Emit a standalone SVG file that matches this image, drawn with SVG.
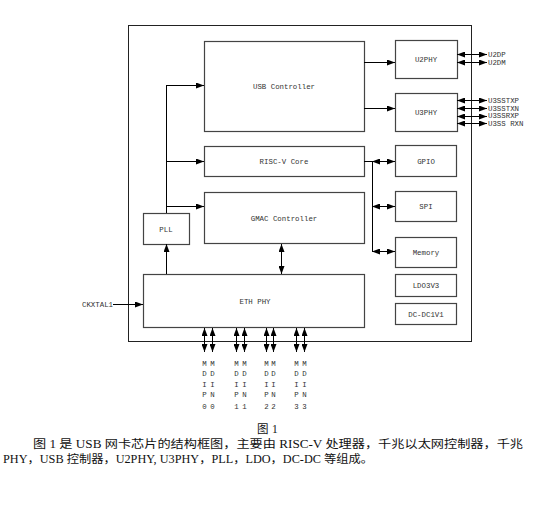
<svg xmlns="http://www.w3.org/2000/svg" width="556" height="519" viewBox="0 0 556 519">
<style>
.box{fill:#fff;stroke:#444;stroke-width:1.2}
.outer{fill:none;stroke:#222;stroke-width:1}
.t{font-family:"Liberation Mono",monospace;font-size:7.4px;fill:#333;text-anchor:middle}
.lb{font-family:"Liberation Mono",monospace;font-size:7.4px;fill:#333}
.c{stroke:#000;stroke-width:1;fill:none}
.a{marker-end:url(#ah)}
.d{marker-end:url(#ah);marker-start:url(#ah)}
.cap{font-family:"Liberation Serif","Noto Sans CJK SC",serif;font-size:11.5px;fill:#111}
</style>
<defs>
<marker id="ah" markerUnits="userSpaceOnUse" markerWidth="8" markerHeight="6" refX="8" refY="3" orient="auto-start-reverse">
<path d="M0,0 L8,3 L0,6 z" fill="#000"/>
</marker>
</defs>
<rect class="outer" x="128.5" y="25.5" width="343" height="316"/>
<g id="usb_controller"><rect class="box" x="204.5" y="41.5" width="160" height="90"/><text class="t" x="284" y="89">USB Controller</text></g>
<g id="riscv_core"><rect class="box" x="204.5" y="146.5" width="160" height="30"/><text class="t" x="284" y="164">RISC-V Core</text></g>
<g id="gmac_controller"><rect class="box" x="204.5" y="192.5" width="160" height="51"/><text class="t" x="284" y="221">GMAC Controller</text></g>
<g id="pll"><rect class="box" x="143.5" y="213.5" width="46" height="31"/><text class="t" x="166" y="232">PLL</text></g>
<g id="eth_phy"><rect class="box" x="143.5" y="274.5" width="221" height="53"/><text class="t" x="255" y="304">ETH PHY</text></g>
<g id="u2phy"><rect class="box" x="395.5" y="40.5" width="62" height="38"/><text class="t" x="426" y="62">U2PHY</text></g>
<g id="u3phy"><rect class="box" x="395.5" y="93.5" width="62" height="38"/><text class="t" x="426" y="115">U3PHY</text></g>
<g id="gpio"><rect class="box" x="395.5" y="145.5" width="61" height="31"/><text class="t" x="426" y="164">GPIO</text></g>
<g id="spi"><rect class="box" x="395.5" y="191.5" width="61" height="30"/><text class="t" x="426" y="209">SPI</text></g>
<g id="memory"><rect class="box" x="395.5" y="237.5" width="61" height="30"/><text class="t" x="426" y="255">Memory</text></g>
<g id="ldo3v3"><rect class="box" x="395.5" y="274.5" width="61" height="22"/><text class="t" x="426" y="288">LDO3V3</text></g>
<g id="dcdc1v1"><rect class="box" x="395.5" y="303.5" width="61" height="21"/><text class="t" x="426" y="317">DC-DC1V1</text></g>
<g id="connectors">
<path class="c a" d="M364,62.5 H395"/>
<path class="c a" d="M364,108.5 H395"/>
<path class="c" d="M166.5,213 V85.5"/>
<path class="c a" d="M166,85.5 H204"/>
<path class="c a" d="M166,161.5 H204"/>
<path class="c a" d="M166,206.5 H204"/>
<path class="c a" d="M166.5,274 V244"/>
<path class="c d" d="M281.5,244 V274"/>
<path class="c a" d="M113,304.5 H143"/>
<path class="c" d="M364,161.5 H372.5 V251"/>
<path class="c d" d="M372,161.5 H395"/>
<path class="c d" d="M372,206.5 H395"/>
<path class="c d" d="M372,251.5 H395"/>
<path class="c d" d="M457,54.5 H487"/>
<path class="c d" d="M457,62.5 H487"/>
<path class="c d" d="M457,100.5 H487"/>
<path class="c d" d="M457,108.5 H487"/>
<path class="c d" d="M457,116.5 H487"/>
<path class="c d" d="M457,123.5 H487"/>
<path class="c d" d="M204.5,328 V352"/>
<path class="c d" d="M212.5,328 V352"/>
<path class="c d" d="M236.5,328 V352"/>
<path class="c d" d="M244.5,328 V352"/>
<path class="c d" d="M266.5,328 V352"/>
<path class="c d" d="M273.5,328 V352"/>
<path class="c d" d="M296.5,328 V352"/>
<path class="c d" d="M304.5,328 V352"/>
</g>
<g id="labels">
<text class="lb" x="488" y="56.5">U2DP</text>
<text class="lb" x="488" y="64.5">U2DM</text>
<text class="lb" x="488" y="103">U3SSTXP</text>
<text class="lb" x="488" y="110.5">U3SSTXN</text>
<text class="lb" x="488" y="118">U3SSRXP</text>
<text class="lb" x="488" y="125.5">U3SS RXN</text>
<text class="lb" x="113" y="307" text-anchor="end">CKXTAL1</text>
<g class="t">
<text x="204.5" y="366">M</text><text x="204.5" y="376">D</text><text x="204.5" y="386.5">I</text><text x="204.5" y="397">P</text><text x="204.5" y="409">0</text>
<text x="212.5" y="366">M</text><text x="212.5" y="376">D</text><text x="212.5" y="386.5">I</text><text x="212.5" y="397">N</text><text x="212.5" y="409">0</text>
<text x="236.5" y="366">M</text><text x="236.5" y="376">D</text><text x="236.5" y="386.5">I</text><text x="236.5" y="397">P</text><text x="236.5" y="409">1</text>
<text x="244.5" y="366">M</text><text x="244.5" y="376">D</text><text x="244.5" y="386.5">I</text><text x="244.5" y="397">N</text><text x="244.5" y="409">1</text>
<text x="266.5" y="366">M</text><text x="266.5" y="376">D</text><text x="266.5" y="386.5">I</text><text x="266.5" y="397">P</text><text x="266.5" y="409">2</text>
<text x="273.5" y="366">M</text><text x="273.5" y="376">D</text><text x="273.5" y="386.5">I</text><text x="273.5" y="397">N</text><text x="273.5" y="409">2</text>
<text x="296.5" y="366">M</text><text x="296.5" y="376">D</text><text x="296.5" y="386.5">I</text><text x="296.5" y="397">P</text><text x="296.5" y="409">3</text>
<text x="304.5" y="366">M</text><text x="304.5" y="376">D</text><text x="304.5" y="386.5">I</text><text x="304.5" y="397">N</text><text x="304.5" y="409">3</text>
</g>
</g>
<g id="caption">
<text class="cap" y="433" font-size="10"><tspan x="257">图</tspan><tspan x="272">1</tspan></text>
<text class="cap" x="33" y="448" textLength="490" lengthAdjust="spacingAndGlyphs">图 1 是 USB 网卡芯片的结构框图，主要由 RISC-V 处理器，千兆以太网控制器，千兆</text>
<text class="cap" x="3" y="463" textLength="370" lengthAdjust="spacingAndGlyphs">PHY，USB 控制器，U2PHY, U3PHY，PLL，LDO，DC-DC 等组成。</text>
</g>
</svg>
